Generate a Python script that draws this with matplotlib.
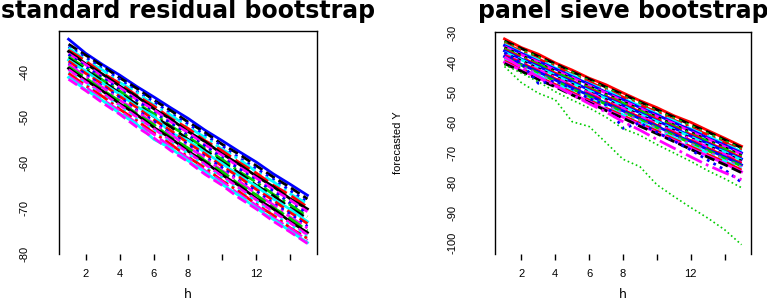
import matplotlib.pyplot as plt

# forecast horizon
h = list(range(1, 16))

# standard residual bootstrap paths (top to bottom)
resid_paths = [
    [-32.8, -35.9, -38.4, -40.7, -43.2, -45.5, -47.9, -50.2, -52.8, -55.1, -57.5, -59.8, -62.4, -64.7, -67.1],
    [-33.9, -36.3, -38.7, -41.3, -43.6, -46.2, -48.5, -51.0, -53.3, -55.9, -58.1, -60.6, -63.1, -65.4, -67.9],
    [-34.4, -36.8, -39.3, -41.6, -44.3, -46.5, -49.2, -51.4, -53.9, -56.2, -58.9, -61.2, -63.6, -66.1, -68.5],
    [-34.7, -37.4, -39.6, -42.3, -44.5, -47.3, -49.5, -52.1, -54.4, -57.0, -59.2, -61.9, -64.1, -66.8, -69.0],
    [-35.2, -37.6, -40.3, -42.5, -45.2, -47.5, -50.2, -52.4, -55.1, -57.3, -59.9, -62.2, -64.9, -67.1, -69.7],
    [-35.5, -38.2, -40.5, -43.1, -45.4, -48.1, -50.4, -53.1, -55.3, -58.0, -60.3, -62.9, -65.2, -67.9, -70.1],
    [-36.0, -38.4, -41.1, -43.4, -46.1, -48.3, -51.0, -53.3, -56.0, -58.3, -60.9, -63.3, -65.8, -68.2, -70.7],
    [-36.2, -38.9, -41.3, -44.0, -46.3, -49.0, -51.3, -54.0, -56.3, -58.9, -61.3, -63.9, -66.2, -68.9, -71.1],
    [-36.7, -39.1, -41.8, -44.2, -46.9, -49.2, -51.9, -54.2, -56.9, -59.2, -61.9, -64.2, -66.9, -69.2, -71.8],
    [-37.0, -39.6, -42.0, -44.7, -47.1, -49.8, -52.1, -54.8, -57.2, -59.8, -62.2, -64.9, -67.2, -69.9, -72.2],
    [-37.4, -39.8, -42.5, -44.9, -47.6, -49.7, -53.4, -55.0, -57.7, -60.1, -62.8, -65.1, -67.9, -70.2, -72.9],
    [-37.6, -40.3, -42.7, -45.4, -47.8, -50.5, -52.9, -55.6, -58.0, -60.7, -63.1, -65.8, -68.2, -70.9, -73.3],
    [-38.1, -40.5, -43.2, -45.6, -48.4, -50.8, -53.5, -55.9, -58.6, -61.0, -63.8, -66.1, -68.9, -71.2, -73.9],
    [-38.3, -41.0, -43.4, -46.2, -48.6, -51.4, -53.7, -56.5, -58.9, -61.7, -64.0, -66.8, -69.2, -71.9, -74.3],
    [-38.9, -41.3, -44.0, -46.4, -49.2, -51.6, -54.4, -56.7, -59.5, -61.9, -64.7, -67.0, -69.8, -72.2, -74.9],
    [-39.2, -41.8, -44.2, -47.0, -49.4, -52.2, -54.6, -57.4, -59.8, -62.6, -65.0, -67.8, -70.1, -72.9, -75.3],
    [-39.5, -42.2, -44.7, -47.3, -49.9, -52.5, -55.1, -57.7, -60.3, -62.9, -65.5, -68.1, -70.7, -73.2, -75.8],
    [-40.1, -42.5, -45.2, -47.7, -50.4, -52.9, -55.6, -57.9, -60.9, -63.3, -66.1, -68.5, -71.3, -73.7, -76.3],
    [-40.3, -43.0, -45.4, -48.2, -50.7, -53.4, -55.9, -58.7, -61.1, -63.9, -66.3, -69.1, -71.5, -74.3, -76.6],
    [-40.9, -43.3, -46.1, -48.5, -51.3, -53.7, -56.5, -58.9, -61.7, -64.1, -66.9, -69.3, -72.1, -74.4, -77.0],
    [-41.2, -43.9, -46.3, -49.1, -51.5, -54.8, -56.8, -59.5, -62.0, -64.7, -67.2, -69.9, -72.4, -75.0, -77.5],
    [-41.6, -44.1, -46.8, -49.3, -52.1, -54.5, -57.3, -59.7, -62.5, -64.9, -67.7, -70.1, -72.8, -75.2, -77.7],
]
resid_colors = ["blue", "black", "blue", "cyan", "red", "black", "magenta", "blue",
                "#00CD00", "black", "cyan", "red", "blue", "magenta", "#00CD00", "black",
                "magenta", "cyan", "red", "magenta", "cyan", "magenta"]

# panel sieve bootstrap paths (right panel); last two are the green outliers
sieve_paths = [
    [-32.0, -34.9, -37.1, -40.0, -42.4, -45.1, -47.3, -50.0, -52.6, -54.9, -57.6, -59.8, -62.5, -65.1, -67.8],
    [-32.7, -35.2, -37.8, -40.3, -43.0, -45.4, -48.1, -50.5, -53.0, -55.6, -58.0, -60.6, -63.0, -65.6, -68.3],
    [-33.1, -35.8, -38.1, -41.0, -43.3, -46.0, -48.4, -51.1, -53.4, -56.1, -58.5, -61.0, -63.6, -66.0, -68.8],
    [-33.5, -36.1, -38.7, -41.2, -43.9, -46.3, -48.9, -51.4, -54.0, -56.4, -59.0, -61.5, -64.0, -66.6, -69.1],
    [-33.8, -36.6, -39.0, -41.7, -44.1, -46.9, -49.2, -51.9, -54.3, -57.0, -59.3, -62.0, -64.4, -67.0, -69.6],
    [-34.2, -36.8, -39.5, -42.0, -44.6, -47.1, -49.8, -52.2, -54.9, -57.3, -59.9, -62.3, -65.0, -67.4, -70.0],
    [-34.6, -37.3, -39.7, -42.5, -44.9, -47.6, -50.0, -52.7, -55.1, -57.8, -60.2, -62.9, -65.3, -67.9, -70.4],
    [-34.9, -37.5, -40.2, -42.7, -45.4, -47.8, -50.5, -52.9, -55.6, -58.0, -60.7, -63.1, -65.8, -68.2, -70.9],
    [-35.3, -38.0, -40.4, -43.2, -45.6, -48.3, -50.8, -53.4, -55.9, -58.5, -61.0, -63.6, -66.1, -68.7, -71.2],
    [-35.7, -38.2, -40.9, -43.4, -46.1, -48.6, -51.2, -53.7, -56.3, -58.8, -61.4, -63.9, -66.5, -69.0, -71.6],
    [-36.0, -38.7, -41.1, -43.9, -46.3, -49.0, -51.5, -54.2, -56.6, -59.3, -61.7, -64.4, -66.8, -69.5, -72.0],
    [-36.4, -39.0, -41.6, -44.1, -46.8, -49.3, -51.9, -54.4, -57.1, -59.5, -62.2, -64.6, -67.3, -69.7, -72.4],
    [-36.8, -39.3, -41.9, -44.6, -47.1, -49.8, -52.2, -54.9, -57.4, -60.0, -62.5, -65.1, -67.6, -70.2, -72.7],
    [-37.1, -39.8, -42.3, -44.9, -47.6, -50.0, -52.7, -55.2, -57.8, -60.3, -63.0, -65.4, -68.1, -70.5, -73.2],
    [-37.5, -40.0, -42.7, -45.3, -47.9, -50.5, -53.0, -55.7, -58.1, -60.8, -63.3, -65.9, -68.4, -71.0, -73.5],
    [-37.9, -40.5, -43.0, -45.7, -48.3, -50.8, -53.5, -56.0, -58.6, -61.1, -63.8, -66.2, -68.9, -71.3, -74.0],
    [-38.2, -40.8, -43.5, -46.0, -48.7, -51.2, -53.8, -56.4, -58.9, -61.6, -64.1, -66.7, -69.2, -71.8, -74.4],
    [-38.6, -41.3, -43.8, -46.5, -49.0, -51.7, -54.2, -56.8, -59.4, -61.9, -64.6, -67.0, -69.7, -72.2, -74.8],
    [-39.0, -41.6, -44.2, -46.9, -49.4, -52.1, -54.6, -57.3, -59.7, -62.4, -64.9, -67.5, -70.0, -72.7, -75.2],
    [-39.4, -42.0, -44.7, -47.2, -49.9, -52.4, -55.1, -57.6, -60.2, -62.7, -65.4, -67.9, -70.5, -73.0, -75.7],
    [-39.8, -42.5, -45.0, -47.7, -50.3, -52.9, -55.5, -58.1, -60.6, -63.3, -65.8, -68.4, -71.0, -73.5, -76.3],
    [-40.2, -42.8, -45.5, -48.0, -50.7, -53.2, -55.9, -58.4, -61.1, -63.6, -66.2, -68.8, -71.4, -73.9, -76.6],
    [-36.5, -40.2, -46.8, -46.0, -48.6, -51.9, -54.0, -61.8, -60.0, -63.1, -66.0, -69.0, -72.4, -75.6, -79.8],
    [-38.0, -41.5, -44.6, -47.5, -50.6, -53.6, -56.4, -59.6, -62.4, -65.5, -68.4, -71.3, -74.1, -76.6, -78.9],
    [-40.6, -43.4, -46.3, -49.6, -52.4, -55.0, -58.1, -61.9, -64.1, -67.2, -70.0, -72.8, -75.9, -78.6, -81.6],
    [-41.2, -46.6, -50.1, -52.3, -59.6, -61.2, -66.6, -72.1, -74.6, -80.6, -84.5, -88.2, -91.7, -95.6, -100.6],
]
sieve_colors = ["red", "black", "#00CD00", "red", "cyan", "blue", "magenta", "black",
                "#00CD00", "red", "blue", "cyan", "black", "magenta", "red", "blue",
                "#00CD00", "magenta", "cyan", "red", "magenta", "black",
                "blue", "magenta", "#00CD00", "#00CD00"]

x_ticks = [2, 4, 6, 8, 10, 12, 14]
x_labels = ["2", "4", "6", "8", "", "12", ""]
resid_yticks = [-40, -50, -60, -70, -80]
resid_marked = [-40, -50]
sieve_yticks = [-30, -40, -50, -60, -70, -80, -90, -100]
sieve_marked = [-30, -70]

styles = ["-", "--", ":", "-.", (0, (6, 2))]

fig = plt.figure(figsize=(7.67, 3.02), dpi=100)
ax1 = fig.add_axes([59 / 767, 48 / 302, 258 / 767, 223 / 302])
ax2 = fig.add_axes([495 / 767, 48 / 302, 256 / 767, 222 / 302])


def draw(ax, paths, colors, yticks, marked, ylim, pad, tick_len, n_dotted=0):
    n = len(paths)
    for i, (p, c) in enumerate(zip(paths, colors)):
        ls = ":" if i >= n - n_dotted else styles[i % len(styles)]
        lw = 1.2 if i >= n - n_dotted else 2.0
        ax.plot(h, p, color=c, lw=lw, ls=ls)
    ax.set_xlim(0.44, 15.56)
    ax.set_ylim(*ylim)
    ax.set_xticks(x_ticks)
    ax.set_xticklabels(x_labels)
    ax.set_yticks(yticks)
    ax.set_yticklabels([str(v) for v in yticks], rotation=90, va="center",
                       family="Liberation Sans")
    ax.set_yticks(marked, minor=True)
    ax.tick_params(axis="y", which="major", length=0, pad=pad, labelsize=8)
    ax.tick_params(axis="y", which="minor", length=tick_len, width=1, direction="out")
    ax.tick_params(axis="x", length=4, width=1, pad=7, labelsize=8)
    for lab in ax.get_xticklabels():
        lab.set_family("Liberation Sans")
    ax.spines["bottom"].set_visible(False)
    for s in ["left", "top", "right"]:
        ax.spines[s].set_linewidth(1)
    ax.set_xlabel("h", fontsize=9, labelpad=6)


draw(ax1, resid_paths, resid_colors, resid_yticks, resid_marked, (-79.5, -31.0), 21, 10)
draw(ax2, sieve_paths, sieve_colors, sieve_yticks, sieve_marked, (-103.7, -29.7), 27, 11,
     n_dotted=2)

ax2.set_ylabel("forecasted Y", fontsize=8, family="Liberation Sans")
ax2.yaxis.set_label_coords(-0.36, 0.5)

fig.text(188 / 767, 1 - 11 / 302, "standard residual bootstrap", ha="center", va="center",
         fontsize=17, fontweight="bold")
fig.text(623 / 767, 1 - 11 / 302, "panel sieve bootstrap", ha="center", va="center",
         fontsize=17, fontweight="bold")

fig.savefig("out.png", dpi=100)
